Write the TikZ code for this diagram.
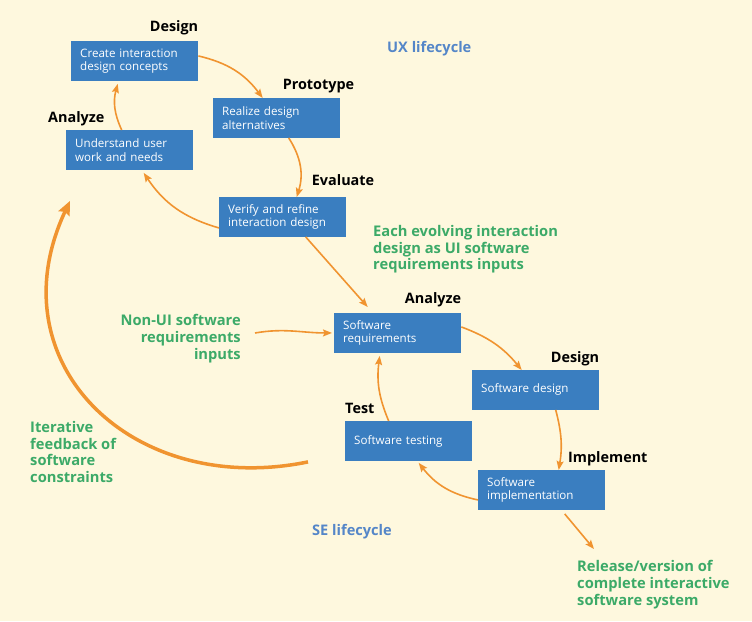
\documentclass[tikz,border=0pt]{standalone}
\usepackage{fontspec}
\setmainfont{Open Sans}
\usepackage{tikz}
\usetikzlibrary{positioning}
\usetikzlibrary{arrows.meta}
\usepackage{xcolor}

\definecolor{bgcream}{RGB}{254,248,222}
\definecolor{boxblue}{RGB}{58,126,192}
\definecolor{flowor}{RGB}{240,148,48}
\definecolor{notegreen}{RGB}{60,170,104}
\definecolor{cycleblue}{RGB}{84,134,200}

\begin{document}
\begin{tikzpicture}[x=1pt, y=1pt,
  box/.style={rectangle, fill=boxblue, text=white, anchor=north west, minimum width=127pt, minimum height=39.5pt, text width=109pt, inner xsep=9pt, align=left, font=\fontsize{11.6}{13.6}\selectfont},
  phase/.style={inner sep=0pt, font=\fontsize{14.4}{16}\selectfont\bfseries},
  note/.style={inner sep=0pt, text=notegreen, font=\fontsize{14.7}{16.8}\selectfont\bfseries},
  cycle/.style={inner sep=0pt, text=cycleblue, font=\fontsize{14.6}{16}\selectfont\bfseries},
  flow/.style={draw=flowor, line width=1.6pt, -{Stealth[length=9pt,width=7pt,inset=1.5pt]}},
  bigflow/.style={draw=flowor, line width=3.5pt, -{Stealth[length=14pt,width=12pt,inset=2pt]}}]

\useasboundingbox (0,0) rectangle (752,-621);
\fill[bgcream] (0,0) rectangle (752,-621);

% Nodes
\node[box] (dux) at (71,-41) {Create interaction\\design concepts};
\node[box] (proto) at (213,-98) {Realize design\\alternatives};
\node[box] (aux) at (66,-130) {Understand user\\work and needs};
\node[box] (evalux) at (219,-197) {Verify and refine\\interaction design};
\node[box] (sreq) at (334,-313) {Software\\requirements};
\node[box] (sdes) at (472,-370) {Software design};
\node[box] (stest) at (345,-421) {Software testing};
\node[box] (simpl) at (478,-470) {Software\\implementation};

% Phase labels
\node[phase, above=10pt of dux.north east, anchor=base east] (ldux) {Design};
\node[phase, above=9pt of proto.north east, anchor=base east, xshift=14pt] (lproto) {Prototype};
\node[phase, above=8pt of aux.north west, anchor=base west, xshift=-18pt] (laux) {Analyze};
\node[phase, above=12pt of evalux.north east, anchor=base east, xshift=28pt] (levalux) {Evaluate};
\node[phase, above=10pt of sreq.north east, anchor=base east] (lsreq) {Analyze};
\node[phase, above=8pt of sdes.north east, anchor=base east] (lsdes) {Design};
\node[phase, above=8pt of stest.north west, anchor=base west] (lstest) {Test};
\node[phase, above=8pt of simpl.north west, anchor=base west, xshift=90pt] (lsimpl) {Implement};

% Notes
\node[cycle, anchor=base west] (uxcyc) at (387,-52) {UX lifecycle};
\node[cycle, anchor=base west] (secyc) at (312,-535) {SE lifecycle};
\node[note, anchor=north west, align=left] (each) at (373,-225) {Each evolving interaction\\design as UI software\\requirements inputs};
\node[note, anchor=north east, align=right] (nonui) at (241,-314) {Non-UI software\\requirements\\inputs};
\node[note, anchor=north west, align=left] (iter) at (30,-421) {Iterative\\feedback of\\software\\constraints};
\node[note, anchor=north west, align=left] (release) at (577,-560) {Release/version of\\complete interactive\\software system};

% Arrows
\draw[flow] ([yshift=5pt]dux.east) to[bend left=20] ([xshift=-14pt]proto.north);
\draw[flow] ([xshift=12pt]proto.south) to[bend left=25] ([xshift=14pt]evalux.north);
\draw[flow] ([yshift=-11pt]evalux.west) to[bend left=20] ([shift={(14pt,-3pt)}]aux.south);
\draw[flow] ([xshift=-8pt]aux.north) to[bend left=20] ([shift={(-17pt,-3pt)}]dux.south);
\draw[flow] ([xshift=23pt]evalux.south) -- ([shift={(-30pt,6pt)}]sreq.north);
\draw[flow] ([shift={(14pt,-19pt)}]nonui.north east) to[out=10,in=180] ([xshift=-2pt]sreq.west);
\draw[flow] ([yshift=6pt]sreq.east) to[bend left=15] ([xshift=-14pt]sdes.north);
\draw[flow] ([xshift=20pt]sdes.south) to[bend left=12] ([xshift=17pt]simpl.north);
\draw[flow] ([yshift=-10pt]simpl.west) to[bend left=20] ([shift={(10pt,-2pt)}]stest.south);
\draw[flow] ([xshift=-20pt]stest.north) to[bend left=15] ([shift={(-18pt,-3pt)}]sreq.south);
\draw[flow] ([shift={(23pt,-4pt)}]simpl.south) -- ([shift={(17pt,11pt)}]release.north west);
\draw[bigflow] ([shift={(-37pt,-1pt)}]stest.south west) .. controls (132,-498) and (-6,-363) .. ([shift={(4pt,-31pt)}]aux.south west);

\end{tikzpicture}
\end{document}
